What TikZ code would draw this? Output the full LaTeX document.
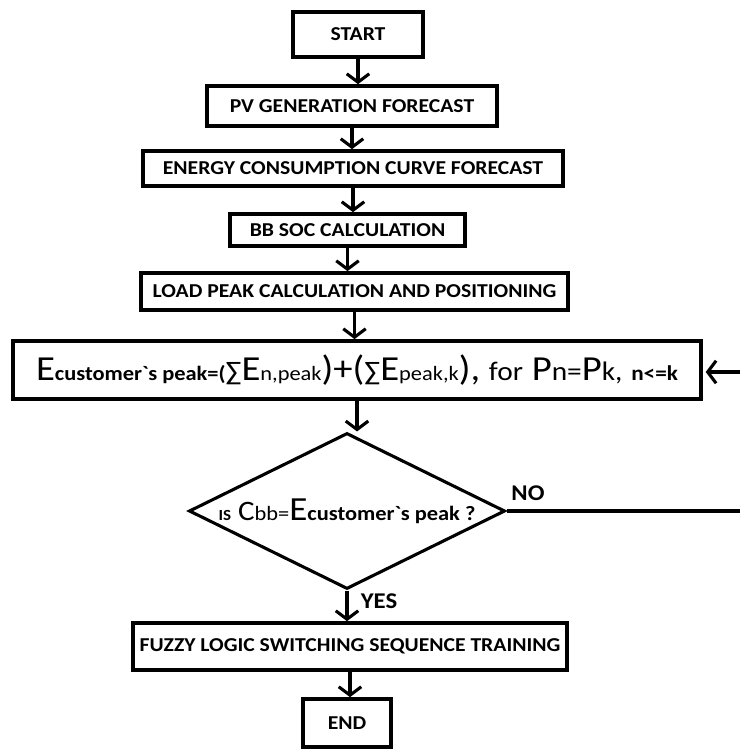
\documentclass[tikz,border=0pt]{standalone}
\usepackage{fontspec}
\setmainfont{Carlito}[FakeStretch=1.1]
\usetikzlibrary{arrows.meta,shapes.geometric}

\newcommand{\bsml}[1]{{\bfseries\fontsize{14.5}{17}\selectfont #1}}
\newcommand{\rsml}[1]{{\fontsize{14.5}{17}\selectfont #1}}
\newcommand{\rmid}[1]{{\fontsize{19}{21}\selectfont #1}}

\begin{document}
\begin{tikzpicture}
        [%%%%%%%%%%%%%%%%%%%%%%%%%%%%%%
            x=0.025cm, y=-0.025cm,
            box/.style={draw=black, line width=2.6pt, inner sep=0pt, font=\bfseries\fontsize{14}{16}\selectfont},
            dec/.style={diamond, draw=black, line width=2.2pt, inner sep=0pt, aspect=2, minimum width=7.9cm, minimum height=3.9cm, font=\fontsize{20}{22}\selectfont},
            arr/.style={line width=2.2pt, -{Straight Barb[length=6pt,width=16pt]}},
            lbl/.style={font=\bfseries\fontsize{16}{18}\selectfont, inner sep=0pt},
        ]%%%%%%%%%%%%%%%%%%%%%%%%%%%%%%
        \useasboundingbox (0,0) rectangle (739,749);

        \node[box, minimum width=3.25cm, minimum height=1.125cm] (start) at (358,34.5) {START};
        \node[box, minimum width=7.25cm, minimum height=1cm] (pv) at (352,106) {PV GENERATION FORECAST};
        \node[box, minimum width=10.5cm, minimum height=0.875cm] (energy) at (353,168.5) {ENERGY CONSUMPTION CURVE FORECAST};
        \node[box, minimum width=5.875cm, minimum height=0.8cm] (bbsoc) at (347.5,230) {BB SOC CALCULATION};
        \node[box, minimum width=10.675cm, minimum height=0.925cm] (load) at (354.5,291.5) {LOAD PEAK CALCULATION AND POSITIONING};
        \node[box, minimum width=17.2cm, minimum height=1.45cm, font=\fontsize{25}{27}\selectfont] (formula) at (357,370)
            {E\bsml{customer\textasciigrave s peak=(}\rmid{∑}E\rsml{n,peak})+(\rmid{∑}E\rsml{peak,k}), \rmid{for} P\rmid{n=}P\rmid{k,} {\bfseries\fontsize{15}{17}\selectfont n<=k}};
        \node[dec] (dec) at (347,511)
            {{\bfseries\fontsize{11}{12}\selectfont IS} C\rsml{bb=}{\fontsize{24}{26}\selectfont E}\bsml{customer\textasciigrave s peak ?}};
        \node[box, minimum width=10.85cm, minimum height=1.175cm] (fuzzy) at (350,646.5) {FUZZY LOGIC SWITCHING SEQUENCE TRAINING};
        \node[box, minimum width=2.2cm, minimum height=1.2cm] (end) at (347,723) {END};

        \node[lbl] (no) at (528,493) {NO};
        \node[lbl] (yes) at (379,601) {YES};

        \foreach \a/\b in {start/pv,pv/energy,energy/bbsoc,bbsoc/load,load/formula,formula/dec,dec/fuzzy,fuzzy/end}{
            \draw[arr] (\a.south) -- (\a.south |- \b.north);
        }

        % loop back
        \coordinate (loopr) at (752,511);
        \coordinate (loopt) at (752,372);
        \draw[arr, shorten >=2pt] (dec.east) -- (loopr) -- (loopt) -- (loopt -| formula.east);
    \end{tikzpicture}
\end{document}
